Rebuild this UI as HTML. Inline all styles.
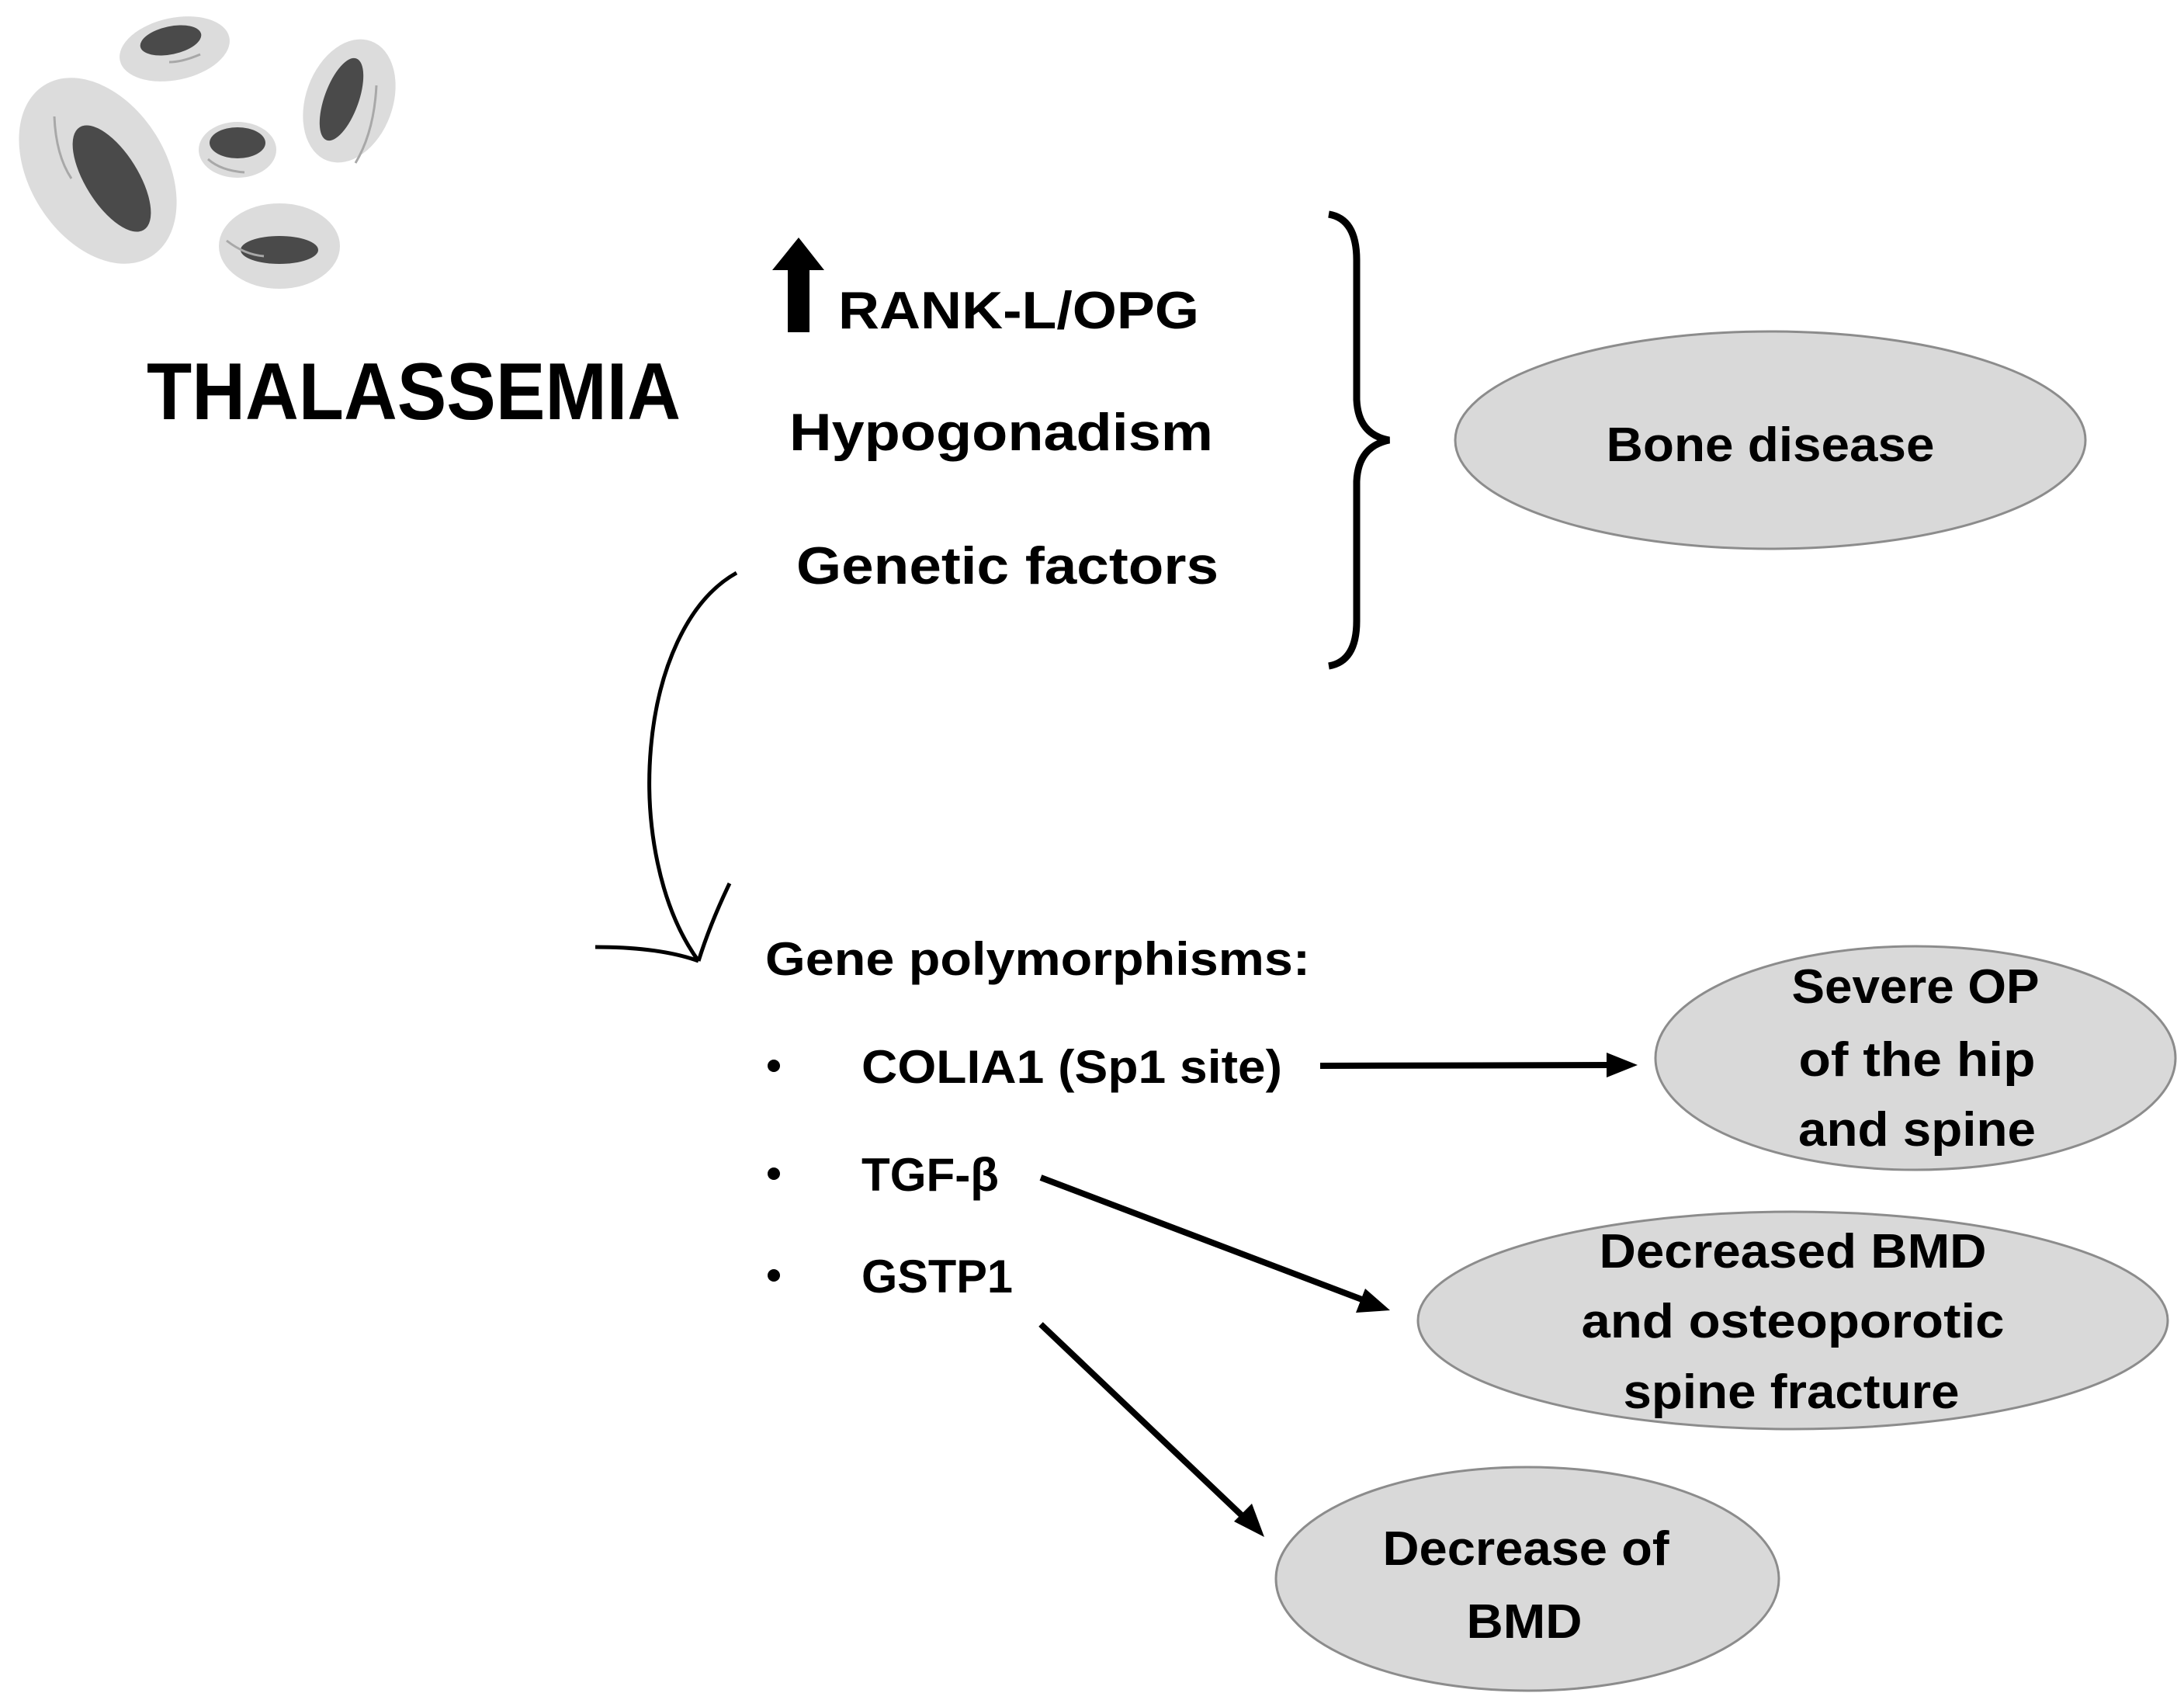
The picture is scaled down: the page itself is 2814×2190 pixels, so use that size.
<!DOCTYPE html>
<html><head><meta charset="utf-8"><style>
html,body{margin:0;padding:0;background:#fff;}
svg{display:block;}
text{font-family:"Liberation Sans",sans-serif;font-weight:bold;fill:#000;}
</style></head><body>
<svg width="2814" height="2190" viewBox="0 0 2814 2190" xmlns="http://www.w3.org/2000/svg">
<rect width="2814" height="2190" fill="#fff"/>
<!-- cells -->
<g fill="#dcdcdc">
<ellipse cx="225" cy="63" rx="72" ry="40" transform="rotate(-12 225 63)"/>
<ellipse cx="450" cy="130" rx="56" ry="82" transform="rotate(20 450 130)"/>
<ellipse cx="126" cy="220" rx="88" ry="130" transform="rotate(-32 126 220)"/>
<ellipse cx="306" cy="193" rx="50" ry="36"/>
<ellipse cx="360" cy="317" rx="78" ry="55"/>
</g>
<g fill="#4a4a4a">
<ellipse cx="220" cy="52" rx="40" ry="18" transform="rotate(-12 220 52)"/>
<ellipse cx="440" cy="128" rx="22" ry="56" transform="rotate(20 440 128)"/>
<ellipse cx="144" cy="230" rx="34" ry="78" transform="rotate(-32 144 230)"/>
<ellipse cx="306" cy="184" rx="36" ry="20"/>
<ellipse cx="360" cy="322" rx="50" ry="18"/>
</g>
<g fill="none" stroke="#a8a8a8" stroke-width="3">
<path d="M70,150 Q72,200 92,230"/>
<path d="M485,110 Q482,170 458,210"/>
<path d="M292,310 Q315,328 340,330"/>
<path d="M268,205 Q285,220 315,222"/>
<path d="M218,80 Q235,80 258,70"/>
</g>
<text x="189" y="540" font-size="104" textLength="688" lengthAdjust="spacingAndGlyphs">THALASSEMIA</text>
<!-- up arrow -->
<polygon points="1029,306 1062,348 1043,348 1043,428 1015,428 1015,348 995,348" fill="#000"/>
<text x="1080" y="423" font-size="68" textLength="465" lengthAdjust="spacingAndGlyphs">RANK-L/OPG</text>
<text x="1017" y="580" font-size="68" textLength="546" lengthAdjust="spacingAndGlyphs">Hypogonadism</text>
<text x="1026" y="752" font-size="68" textLength="544" lengthAdjust="spacingAndGlyphs">Genetic factors</text>
<!-- brace -->
<path d="M1712,276 Q1748,282 1748,335 L1748,515 Q1750,560 1790,567 Q1750,575 1748,620 L1748,800 Q1748,852 1712,858" fill="none" stroke="#000" stroke-width="9"/>
<ellipse cx="2281" cy="567" rx="406" ry="140" fill="#d9d9d9" stroke="#8c8c8c" stroke-width="3"/>
<text x="2281" y="594" font-size="62" text-anchor="middle" textLength="423" lengthAdjust="spacingAndGlyphs">Bone disease</text>
<!-- curved arrow -->
<path d="M949,738 C820,810 800,1100 900,1238" fill="none" stroke="#000" stroke-width="5"/>
<path d="M767,1220 Q850,1220 900,1238 M940,1138 Q915,1190 900,1238" fill="none" stroke="#000" stroke-width="5"/>
<text x="986" y="1256" font-size="60" textLength="702" lengthAdjust="spacingAndGlyphs">Gene polymorphisms:</text>
<g font-size="60">
<circle cx="997" cy="1373" r="8" fill="#000"/>
<circle cx="997" cy="1512" r="8" fill="#000"/>
<circle cx="997" cy="1643" r="8" fill="#000"/>
<text x="1110" y="1395" textLength="542" lengthAdjust="spacingAndGlyphs">COLIA1 (Sp1 site)</text>
<text x="1110" y="1534" textLength="177" lengthAdjust="spacingAndGlyphs">TGF-β</text>
<text x="1110" y="1665" textLength="195" lengthAdjust="spacingAndGlyphs">GSTP1</text>
</g>
<!-- arrows -->
<g stroke="#000" stroke-width="8">
<line x1="1701" y1="1373" x2="2075" y2="1372"/>
<line x1="1341" y1="1517" x2="1760" y2="1676"/>
<line x1="1341" y1="1706" x2="1605" y2="1957"/>
</g>
<polygon points="2110,1372 2070,1356 2070,1388" fill="#000"/>
<polygon points="1791,1688 1747,1691 1759,1660" fill="#000"/>
<polygon points="1629,1980 1590,1960 1613,1937" fill="#000"/>
<!-- ellipses -->
<g fill="#d9d9d9" stroke="#8c8c8c" stroke-width="3">
<ellipse cx="2468" cy="1363" rx="335" ry="144"/>
<ellipse cx="2310" cy="1701" rx="483" ry="140"/>
<ellipse cx="1968" cy="2034" rx="324" ry="144"/>
</g>
<g font-size="62" text-anchor="middle">
<text x="2468" y="1292" textLength="319" lengthAdjust="spacingAndGlyphs">Severe OP</text>
<text x="2470" y="1386" textLength="305" lengthAdjust="spacingAndGlyphs">of the hip</text>
<text x="2470" y="1476" textLength="306" lengthAdjust="spacingAndGlyphs">and spine</text>
<text x="2310" y="1633" textLength="499" lengthAdjust="spacingAndGlyphs">Decreased BMD</text>
<text x="2310" y="1723" textLength="545" lengthAdjust="spacingAndGlyphs">and osteoporotic</text>
<text x="2308" y="1814" textLength="433" lengthAdjust="spacingAndGlyphs">spine fracture</text>
<text x="1966" y="2016" textLength="369" lengthAdjust="spacingAndGlyphs">Decrease of</text>
<text x="1964" y="2110" textLength="149" lengthAdjust="spacingAndGlyphs">BMD</text>
</g>
</svg>
</body></html>
